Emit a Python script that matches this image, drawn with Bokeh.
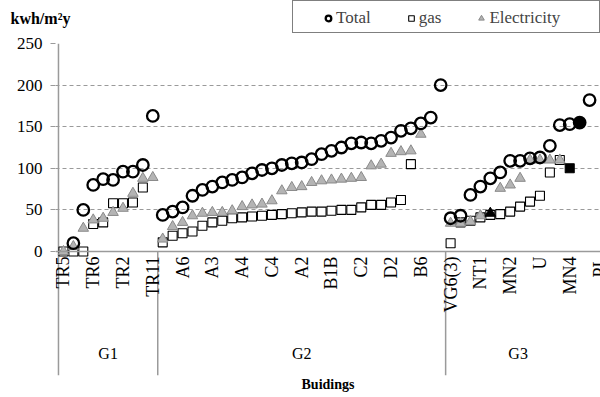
import math
from bokeh.plotting import figure
from bokeh.layouts import column
from bokeh.models import (ColumnDataSource, Range1d, FixedTicker, Span, Legend,
                          LegendItem)
from bokeh.core.properties import value
from bokeh.embed import file_html
from bokeh.resources import INLINE

NaN = float("nan")

groups = ["G1", "G2", "G3"]

g1_total = [None, 10, 50, 80, 87, 86, 96, 96, 104, 163]
g1_gas = [0, 0, 0, 33, 35, 58, 58, 59, 77, None]
g1_elec = [0, 6, 28, 38, 40, 47, 52, 70, 88, 89]
g1_label_idx = [0, 3, 6, 9]
g1_label_txt = ["TR5", "TR6", "TR2", "TR11"]

g2_total = [44, 48, 53, 67, 74, 78, 83, 86, 89, 94, 98, 100, 104, 106, 107,
            111, 117, 121, 125, 130, 131, 130, 133, 137, 145, 148, 154, 161, 200]
g2_gas = [11, 19, 22, 24, 31, 35, 37, 40, 41, 42, 43, 44, 45, 46, 47,
          48, 48, 49, 50, 50, 53, 56, 56, 59, 62, 105, None, None, None]
g2_elec = [15, 30, 35, 43, 46, 47, 47, 49, 54, 56, 57, 61, 73, 77, 78,
           83, 85, 86, 87, 88, 89, 103, 105, 118, 120, 121, 141, None, None]
g2_label_idx = [2, 5, 8, 11, 14, 17, 20, 23, 26]
g2_label_txt = ["A6", "A3", "A4", "C4", "A2", "B1B", "C2", "D2", "B6"]

g3_total = [40, 43, 68, 78, 88, 95, 109, 109, 112, 113, 127, 152, 153, 155, 182]
g3_gas = [10, 35, 37, 41, 44, 45, 48, 54, 60, 67, 95, 110, 100, None, None]
g3_elec = [34, 34, 36, 43, 46, 76, 80, 88, 110, 110, 110, 110, None, None, None]
g3_label_idx = [0, 3, 6, 9, 12, 15]
g3_label_txt = ["VG6(3)", "NT1", "MN2", "U", "MN4", "PL"]
# highlighted (filled black) points in G3
g3_total_black = [13]
g3_gas_black = [12]
g3_elec_black = [4]

group_sizes = [10, 29, 16]
group_label_pos = [5, 24.5, 46.3]
y_ticks = [0, 50, 100, 150, 200, 250]
y_title = "kwh/m²y"
x_title = "Buidings"
legend_labels = ["Total", "gas", "Electricity"]

# ---------------------------------------------------------------------------
offsets = [0, group_sizes[0], group_sizes[0] + group_sizes[1]]
series = {
    "total": [g1_total, g2_total, g3_total],
    "gas": [g1_gas, g2_gas, g3_gas],
    "elec": [g1_elec, g2_elec, g3_elec],
}
blacks = {"total": [[], [], g3_total_black], "gas": [[], [], g3_gas_black],
          "elec": [[], [], g3_elec_black]}


def build(key):
    xs, ys, bl = [], [], []
    for g in range(3):
        for i, v in enumerate(series[key][g]):
            xs.append(offsets[g] + i + 0.5)
            ys.append(NaN if v is None else v)
            bl.append(i in blacks[key][g])
    return xs, ys, bl


FONT = "Liberation Serif"
GRAY = "#9a9a9a"
TRI_FILL, TRI_LINE = "#b4b4b4", "#8a8a8a"
Y0, Y1 = -149, 250
X0, X1 = -0.3, 54.6
HEAD_H = 34

STY = {
    "total": dict(marker="circle", size=11.5, fill_color="black", line_color="black",
                  line_width=2.3),
    "gas": dict(marker="square", size=9, line_color="black", line_width=1.1),
    "elec": dict(marker="triangle", size=10.5, line_width=1),
}

# ---------------- main chart ----------------
p = figure(width=600, height=397 - HEAD_H, output_backend="svg",
           toolbar_location=None,
           x_range=Range1d(X0, X1), y_range=Range1d(Y0, Y1),
           min_border_left=55, min_border_right=0, min_border_top=43 - HEAD_H,
           min_border_bottom=22)
p.frame_align = False
p.outline_line_color = None
p.background_fill_color = "white"
p.xgrid.visible = False
p.ygrid.ticker = FixedTicker(ticks=[t for t in y_ticks if t > 0])
p.ygrid.grid_line_color = GRAY
p.ygrid.grid_line_dash = "4 3"
p.ygrid.grid_line_width = 1

yax = p.yaxis[0]
yax.ticker = FixedTicker(ticks=y_ticks)
yax.axis_line_color = None
yax.major_tick_in = 0
yax.major_tick_out = 5
yax.major_tick_line_color = GRAY
yax.minor_tick_line_color = None
yax.major_label_text_font = FONT
yax.major_label_text_font_size = "17px"
yax.major_label_text_color = "black"
yax.major_label_standoff = 8

xax = p.xaxis[0]
xax.ticker = FixedTicker(ticks=[])
xax.axis_line_color = None
xax.major_tick_line_color = None
xax.minor_tick_line_color = None
xax.major_tick_out = 0
xax.minor_tick_out = 0
xax.axis_label = x_title
xax.axis_label_text_font = FONT
xax.axis_label_text_font_style = "bold"
xax.axis_label_text_font_size = "14px"
xax.axis_label_text_color = "black"
xax.axis_label_standoff = 1

p.add_layout(Span(location=0, dimension="width", line_color=GRAY, line_width=1.5))
sep_top = [Y1, 0, 0]
p.segment(x0=offsets, y0=sep_top, x1=offsets, y1=[Y0] * 3,
          line_color=GRAY, line_width=1.5)

lab_x, lab_t = [], []
for g, (idx, txt) in enumerate([(g1_label_idx, g1_label_txt),
                                (g2_label_idx, g2_label_txt),
                                (g3_label_idx, g3_label_txt)]):
    for i, t in zip(idx, txt):
        lab_x.append(offsets[g] + i + 0.5)
        lab_t.append(t)
p.text(x=lab_x, y=[-6] * len(lab_x), text=lab_t, angle=math.pi / 2,
       text_align="right", text_baseline="middle",
       text_font=value(FONT), text_font_size="18px", text_color="black")

p.text(x=group_label_pos, y=[-123] * 3, text=groups, text_align="center",
       text_baseline="middle", text_font=value(FONT), text_font_size="16px",
       text_color="black")

xs, ys, bl = build("gas")
src_g = ColumnDataSource(dict(x=xs, y=ys, fill=["black" if b else "white" for b in bl]))
p.scatter("x", "y", source=src_g, fill_color="fill", **STY["gas"])

xs, ys, bl = build("elec")
src_e = ColumnDataSource(dict(x=xs, y=ys,
                              fill=["black" if b else TRI_FILL for b in bl],
                              line=["black" if b else TRI_LINE for b in bl]))
p.scatter("x", "y", source=src_e, fill_color="fill", line_color="line", **STY["elec"])

xs, ys, bl = build("total")
src_t = ColumnDataSource(dict(x=xs, y=ys, fa=[1.0 if b else 0.0 for b in bl]))
p.scatter("x", "y", source=src_t, fill_alpha="fa", **STY["total"])

# ---------------- header: unit label + legend ----------------
h = figure(width=600, height=HEAD_H, output_backend="svg", toolbar_location=None,
           x_range=Range1d(0, 600), y_range=Range1d(HEAD_H, 0),
           x_axis_type=None, y_axis_type=None, min_border=0,
           min_border_left=0, min_border_right=0, min_border_top=0,
           min_border_bottom=0)
h.frame_align = False
h.outline_line_color = None
h.grid.visible = False

h.text(x=[10], y=[18], text=[y_title], text_font=value(FONT),
       text_font_style="bold", text_font_size="16px", text_baseline="middle",
       text_align="left", text_color="black")

lr_t = h.scatter(x=[NaN], y=[NaN], fill_alpha=0, **STY["total"])
lr_g = h.scatter(x=[NaN], y=[NaN], fill_color="white", **STY["gas"])
lr_e = h.scatter(x=[NaN], y=[NaN], fill_color=TRI_FILL, line_color=TRI_LINE, **STY["elec"])
r_ph = h.scatter(x=[NaN], y=[NaN], marker="circle", size=1, alpha=0)

box = Legend(items=[LegendItem(label=" ", renderers=[r_ph])],
             location=(292, 1), padding=0, margin=0,
             glyph_width=10, glyph_height=31, label_height=31,
             label_width=296, label_standoff=0,
             border_line_color="black", border_line_width=1,
             background_fill_color="white", background_fill_alpha=1)
h.add_layout(box)

legend = Legend(items=[LegendItem(label=legend_labels[0], renderers=[lr_t]),
                       LegendItem(label=legend_labels[1], renderers=[lr_g]),
                       LegendItem(label=legend_labels[2], renderers=[lr_e])],
                orientation="horizontal", location=(321, 6))
legend.label_text_font = FONT
legend.label_text_font_size = "17px"
legend.label_standoff = 1
legend.label_width = 0
legend.glyph_width = 14
legend.glyph_height = 16
legend.label_height = 16
legend.spacing = 33
legend.padding = 0
legend.margin = 0
legend.border_line_color = None
legend.background_fill_alpha = 0
h.add_layout(legend)

layout = column(h, p, spacing=0)
open("out.html", "w").write(file_html(layout, INLINE))
